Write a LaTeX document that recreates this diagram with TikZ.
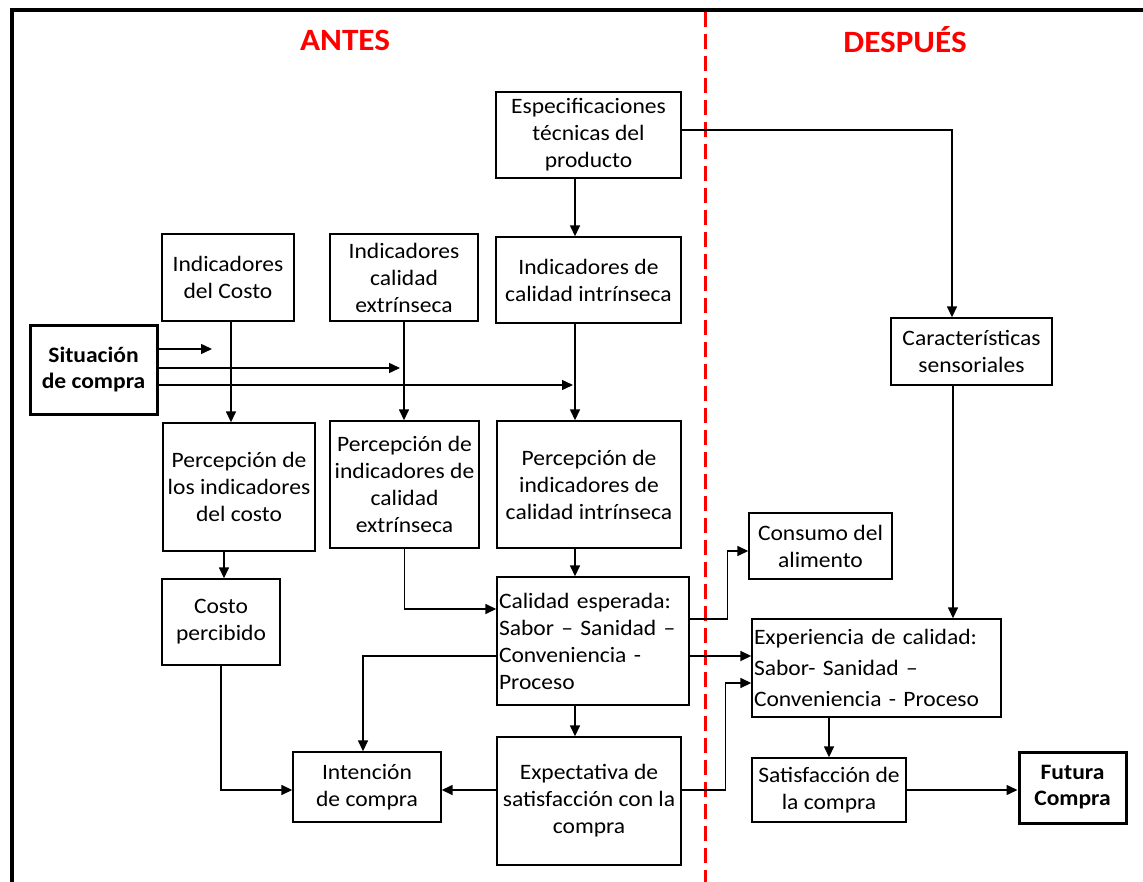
\documentclass[tikz,border=0pt]{standalone}
\usepackage{fontspec}
\setmainfont{Carlito}[FakeStretch=1.07]
\usetikzlibrary{arrows.meta,calc}
\begin{document}
\begin{tikzpicture}[x=1pt,y=-1pt,
  box/.style={draw=black, line width=1.4pt, inner sep=1pt, align=center,
    font=\fontsize{22}{27}\selectfont, text=black},
  thickbox/.style={box, line width=3pt, font=\fontsize{22}{26}\selectfont\bfseries},
  arr/.style={line width=1.5pt, -{Triangle[length=11pt,width=10pt]}},
  ttl/.style={text=red, font=\fontsize{31}{36}\selectfont\bfseries},
  divider/.style={draw=red, line width=3pt, dash pattern=on 15pt off 7pt},
  frame/.style={draw=black, line width=4pt}]
\useasboundingbox (0,0) rectangle (1143,882);
% frame and divider
\draw[frame] (12,900) -- (12,10) -- (1160,10);
\draw[divider] (705,12) -- (705,882);
% titles
\node[ttl] (antes) at (345,40) {ANTES};
\node[ttl] (despues) at (905,40) {DESPUÉS};
% boxes
\node[box, minimum width=132pt, minimum height=87pt] (indCosto) at (228,277.5) {Indicadores\\del Costo};
\node[box, minimum width=148pt, minimum height=87pt] (indExt) at (404,277.5) {Indicadores\\calidad\\extrínseca};
\node[box, minimum width=185pt, minimum height=86pt] (espec) at (588.5,135) {Especificaciones\\técnicas del\\producto};
\node[box, minimum width=185pt, minimum height=86pt] (indInt) at (588.5,280) {Indicadores de\\calidad intrínseca};
\node[thickbox, minimum width=127pt, minimum height=88pt] (sit) at (93.5,370) {Situación\\de compra};
\node[box, minimum width=152pt, minimum height=128pt] (percCosto) at (239,487) {Percepción de\\los indicadores\\del costo};
\node[box, minimum width=149pt, minimum height=127pt] (percExt) at (404.5,484.5) {Percepción de\\indicadores de\\calidad\\extrínseca};
\node[box, minimum width=184pt, minimum height=127pt] (percInt) at (589,484.5) {Percepción de\\indicadores de\\calidad intrínseca};
\node[box, minimum width=161pt, minimum height=67pt] (caract) at (971.5,351.5) {Características\\sensoriales};
\node[box, minimum width=118pt, minimum height=86pt] (costoPerc) at (221,622) {Costo\\percibido};
\node[box, align=left, text width=188pt, inner xsep=2pt, minimum height=128pt] (calEsp) at (593,641) {Calidad esperada:\\Sabor – Sanidad –\\Conveniencia -\\Proceso};
\node[box, minimum width=143pt, minimum height=66pt] (consumo) at (820.5,546) {Consumo del\\alimento};
\node[box, align=left, text width=245pt, inner xsep=2pt, minimum height=98pt, font=\fontsize{22}{31}\selectfont] (exper) at (876.5,668) {Experiencia de calidad:\\Sabor- Sanidad –\\Conveniencia - Proceso};
\node[box, minimum width=184pt, minimum height=128pt] (expect) at (589,801) {Expectativa de\\satisfacción con la\\compra};
\node[box, minimum width=148pt, minimum height=70pt] (intencion) at (367,787) {Intención\\de compra};
\node[box, minimum width=154pt, minimum height=64pt] (satis) at (829,790) {Satisfacción de\\la compra};
\node[thickbox, minimum width=107pt, minimum height=71pt] (futura) at (1072.5,787.5) {Futura\\Compra};
% helper coordinates
\coordinate (e1) at (212,349);
\coordinate (e2) at (400,368);
\coordinate (e3) at (573,385);
\coordinate (sp) at (575,0);
% connectors
\draw[arr] (sit.east |- e1) -- (e1);
\draw[arr] (sit.east |- e2) -- (e2);
\draw[arr] (sit.east |- e3) -- (e3);
\draw[arr] ([xshift=3pt]indCosto.south) -- ([xshift=3pt]indCosto.south |- percCosto.north);
\draw[arr] (indExt.south) -- (indExt.south |- percExt.north);
\draw[arr] (espec.south -| sp) -- (indInt.north -| sp);
\draw[arr] (indInt.south -| sp) -- (percInt.north -| sp);
\draw[arr] ([yshift=5pt]espec.east) -| ([xshift=-19.5pt]caract.north);
\draw[arr] ([xshift=-18.5pt]caract.south) -- ([xshift=-18.5pt]caract.south |- exper.north);
\draw[arr] ([xshift=3pt]costoPerc.north |- percCosto.south) -- ([xshift=3pt]costoPerc.north);
\draw[arr] (percExt.south) |- ([yshift=32pt]calEsp.west);
\draw[arr] (percInt.south -| sp) -- (calEsp.north -| sp);
\draw[arr] ([yshift=-15pt]calEsp.west) -| ([xshift=-4pt]intencion.north);
\draw[arr] ([yshift=22pt]calEsp.east) -- ++(38,0) |- ([yshift=-5pt]consumo.west);
\draw[arr] ([yshift=-15pt]calEsp.east) -- ([yshift=12pt]exper.west);
\draw[arr] (calEsp.south -| sp) -- (expect.north -| sp);
\draw[arr] ([yshift=11pt]expect.east) -- ++(44,0) |- ([yshift=-15pt]exper.west);
\draw[arr] ([yshift=11pt]expect.west) -- ([yshift=-3pt]intencion.east);
\draw[arr] (costoPerc.south) |- ([yshift=-3pt]intencion.west);
\draw[arr] (satis.north |- exper.south) -- (satis.north);
\draw[arr] (satis.east) -- (futura.west |- satis.east);
\end{tikzpicture}
\end{document}
